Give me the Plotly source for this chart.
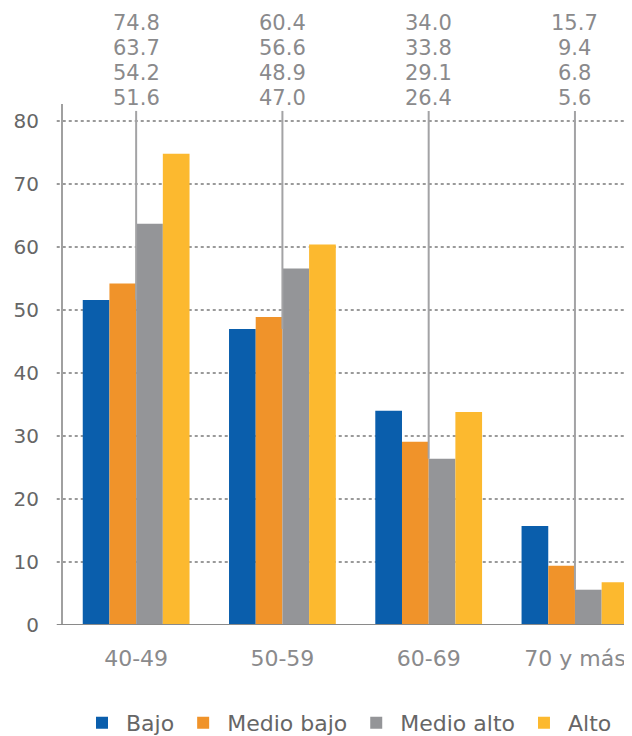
import plotly.graph_objects as go

categories = ["40-49", "50-59", "60-69", "70 y más"]
series_names = ["Bajo", "Medio bajo", "Medio alto", "Alto"]
bajo = [51.6, 47.0, 34.0, 15.7]
medio_bajo = [54.2, 48.9, 29.1, 9.4]
medio_alto = [63.7, 56.6, 26.4, 5.6]
alto = [74.8, 60.4, 33.8, 6.8]
y_ticks = [0, 10, 20, 30, 40, 50, 60, 70, 80]

colors = ["#0a5eac", "#f0932a", "#949598", "#fcb92f"]
FONT = "Century Gothic, DejaVu Sans, sans-serif"

series = [bajo, medio_bajo, medio_alto, alto]
fig = go.Figure()
for name, vals, col in zip(series_names, series, colors):
    fig.add_trace(go.Bar(x=categories, y=vals, name=name, marker_color=col,
                         marker_line_width=0))

shapes = []
# dotted gridlines
for t in y_ticks[1:]:
    shapes.append(dict(type="line", xref="paper", yref="y", x0=-0.011, x1=1,
                       y0=t, y1=t, line=dict(color="#9a9a9a", width=2, dash="dot"),
                       layer="below"))
annotations = []
line_shifts = [81, 56, 31, 6]
for i, cat in enumerate(categories):
    vals = [s[i] for s in series]
    srt = sorted(vals, reverse=True)
    for v, ys in zip(srt, line_shifts):
        annotations.append(dict(x=i, xref="x", y=1.0, yref="paper", yanchor="middle",
                                yshift=ys, text=f"{v:.1f}",
                                showarrow=False, align="center",
                                font=dict(family=FONT, size=21, color="#8a8a8c")))
    shapes.append(dict(type="line", xref="x", yref="y", x0=i, x1=i,
                       y0=min(vals), y1=81.6,
                       line=dict(color="#a3a3a5", width=2), layer="above"))

fig.update_layout(
    width=624, height=728,
    margin=dict(l=55, r=0, t=96, b=111, autoexpand=False),
    plot_bgcolor="white", paper_bgcolor="white",
    barmode="group", bargap=0.27, bargroupgap=0,
    font=dict(family=FONT, color="#6d6d6d"),
    shapes=shapes, annotations=annotations,
    legend=dict(orientation="h", x=0.5, xanchor="center", y=-0.188, yanchor="middle",
                font=dict(family=FONT, size=22, color="#666666"),
                itemwidth=38, tracegroupgap=0),
    xaxis=dict(range=[-0.5, 3.39], showgrid=False, showline=False, zeroline=False,
               tickfont=dict(family=FONT, size=22, color="#8a8a8c"), ticks="",
               ticklabelstandoff=18),
    yaxis=dict(range=[0, 82.7], tickvals=y_ticks, showgrid=False, zeroline=False,
               showline=True, linecolor="#a0a0a0", linewidth=2,
               tickfont=dict(family=FONT, size=20, color="#666666"), ticks="",
               ticklabelstandoff=18),
)
# baseline
fig.add_shape(type="line", xref="paper", yref="y", x0=-0.011, x1=1, y0=0, y1=0,
              line=dict(color="#8a8a8a", width=2), layer="above")

fig.write_html("out.html")
